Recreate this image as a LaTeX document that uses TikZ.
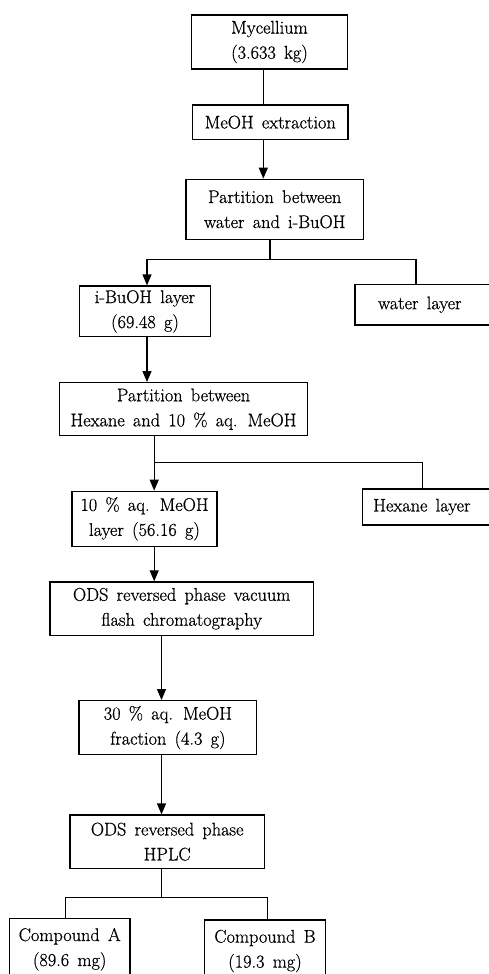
\documentclass[tikz,border=0pt]{standalone}
\usepackage{fontspec}
\newfontfamily\boxfont{Latin Modern Roman}[FakeBold=0.7]
\usetikzlibrary{arrows.meta}
\newcommand{\wsp}{\spaceskip=0.45em plus 0.1em\relax}
\begin{document}
\begin{tikzpicture}[x=1pt,y=-1pt,
  box/.style={draw=black,line width=1.3pt,align=center,inner sep=0pt,
    font=\boxfont\fontsize{18.3}{25}\selectfont,execute at begin node=\wsp},
  conn/.style={line width=1.2pt},
  arr/.style={line width=1.2pt,-{Triangle[length=11pt,width=9pt]}}]
\clip (0,0) rectangle (489,974);
\fill[white] (0,0) rectangle (489,974);
% nodes
\node[box,minimum width=155.6pt,minimum height=54pt] (myc) at (269.5,42) {Mycellium\\(3.633 kg)};
\node[box,minimum width=155.3pt,minimum height=34.3pt] (meoh) at (270.3,122.2) {MeOH extraction};
\node[box,minimum width=177.3pt,minimum height=60pt] (part1) at (274.7,209.3) {Partition between\\water and i-BuOH};
\node[box,minimum width=131.4pt,minimum height=50.7pt] (ibuoh) at (145,311.4) {i-BuOH layer\\(69.48 g)};
\node[box,minimum width=150pt,minimum height=40.7pt,text width=130pt,align=left] (water) at (430,304.7) {\hspace*{13pt}water layer};
\node[box,minimum width=248.4pt,minimum height=53pt] (part2) at (183.5,409.2) {Partition between\\Hexane and 10 \% aq. MeOH};
\node[box,minimum width=145pt,minimum height=55pt] (ten) at (144.5,518.8) {10 \% aq. MeOH\\layer (56.16 g)};
\node[box,minimum width=150pt,minimum height=36pt,text width=140pt,align=left] (hex) at (437.3,507) {\hspace*{6pt}Hexane layer};
\node[box,minimum width=263.3pt,minimum height=53.5pt] (vac) at (181.7,608.7) {ODS reversed phase vacuum\\flash chromatography};
\node[box,minimum width=177.7pt,minimum height=53.6pt] (thirty) at (167.9,727.5) {30 \% aq. MeOH\\fraction (4.3 g)};
\node[box,minimum width=194.3pt,minimum height=53.3pt] (hplc) at (167.2,841.7) {ODS reversed phase\\HPLC};
\node[box,minimum width=120.7pt,minimum height=62pt] (cA) at (69.7,949.3) {Compound A\\(89.6 mg)};
\node[box,minimum width=121.4pt,minimum height=62pt] (cB) at (265,951) {Compound B\\(19.3 mg)};
% helper coordinates
\coordinate (xa) at (263.3,0);
\coordinate (xb) at (270,0);
\coordinate (yb) at (0,259.3);
\coordinate (xc) at (147,0);
\coordinate (xd) at (416,0);
\coordinate (xe) at (154.2,0);
\coordinate (ye) at (0,462.5);
\coordinate (xf) at (422.7,0);
\coordinate (xg) at (161.5,0);
\coordinate (yh) at (0,897.7);
\coordinate (xi) at (65.3,0);
\coordinate (xj) at (267.7,0);
% connectors
\draw[conn] (myc.south -| xa) -- (meoh.north -| xa);
\draw[arr] (meoh.south -| xa) -- (part1.north -| xa);
\draw[conn] (part1.south -| xb) -- (xb |- yb);
\draw[conn] (xc |- yb) -- (xd |- yb) -- (water.north -| xd);
\draw[arr] (xc |- yb) -- (ibuoh.north -| xc);
\draw[arr] (ibuoh.south -| xc) -- (part2.north -| xc);
\draw[conn] (part2.south -| xe) -- (xe |- ye) -- (xf |- ye) -- (hex.north -| xf);
\draw[arr] (xe |- ye) -- (ten.north -| xe);
\draw[arr] (ten.south -| xe) -- (vac.north -| xe);
\draw[arr] (vac.south -| xg) -- (thirty.north -| xg);
\draw[arr] (thirty.south -| xg) -- (hplc.north -| xg);
\draw[conn] (hplc.south -| xg) -- (xg |- yh);
\draw[conn] (cA.north -| xi) -- (xi |- yh) -- (xj |- yh) -- (cB.north -| xj);
\end{tikzpicture}
\end{document}
